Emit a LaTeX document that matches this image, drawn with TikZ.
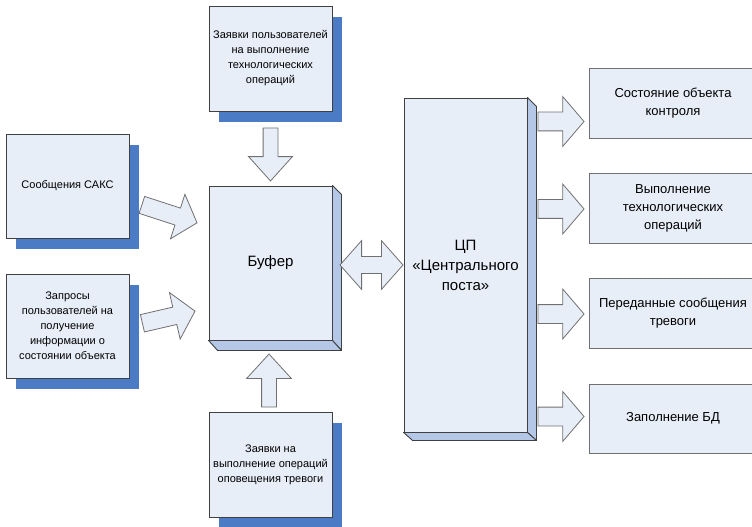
\documentclass[tikz,border=0pt]{standalone}
\usepackage{fontspec}
\setmainfont{Liberation Sans}
\usetikzlibrary{shapes.arrows,shadows,calc}

\definecolor{boxfill}{HTML}{E8EEF8}
\definecolor{shadowblue}{HTML}{4A7BC4}
\definecolor{sidefill}{HTML}{B4C7E7}
\definecolor{edge}{HTML}{404040}
\definecolor{arrowedge}{HTML}{707070}

\tikzset{
  inbox/.style={draw=edge, fill=boxfill, line width=0.9bp, inner sep=2bp,
    align=center, minimum width=123bp, minimum height=105bp,
    font=\fontsize{11bp}{15bp}\selectfont,
    drop shadow={shadow xshift=10bp, shadow yshift=-11bp,
      fill=shadowblue, opacity=1}},
  cube/.style={draw=edge, fill=boxfill, line width=0.9bp, align=center,
    minimum width=123bp, font=\fontsize{15bp}{20bp}\selectfont},
  cubeside/.style={draw=edge, fill=sidefill, line width=0.9bp, line join=round},
  outbox/.style={draw=arrowedge, fill=boxfill, line width=0.9bp, align=center,
    minimum width=168bp, minimum height=70bp,
    font=\fontsize{13bp}{18bp}\selectfont},
  blockarrow/.style={single arrow, draw=arrowedge, fill=boxfill, line width=0.8bp,
    inner xsep=0pt, minimum width=0pt, anchor=tip},
  twoway/.style={double arrow, draw=arrowedge, fill=boxfill, line width=0.8bp,
    inner xsep=0pt, inner ysep=8bp, minimum width=0pt, double arrow head extend=16bp,
    minimum height=63bp, double arrow tip angle=97}
}

\begin{document}
\begin{tikzpicture}[x=1bp, y=-1bp]
  \useasboundingbox (0,0) rectangle (752,527);
  \clip (0,0) rectangle (752,527);
  \fill[white] (0,0) rectangle (752,527);

  % input sources
  \node[inbox] (req)  at (270.5,58.5) {Заявки пользователей\\на выполнение\\технологических\\операций};
  \node[inbox, minimum height=104bp] (saks) at (67.5,186) {Сообщения САКС};
  \node[inbox, minimum height=104bp] (info) at (67.5,326) {Запросы\\пользователей на\\получение\\информации о\\состоянии объекта};
  \node[inbox] (alarm) at (270.5,464.5) {Заявки на\\выполнение операций\\оповещения тревоги};

  % buffer block with depth
  \node[cube, minimum height=154bp] (buf) at (270.5,263) {Буфер};
  \draw[cubeside] (buf.north east) -- ++(9,9) -- ($(buf.south east)+(9,10)$) -- (buf.south east) -- cycle;
  \draw[cubeside] (buf.south west) -- ++(9,10) -- ($(buf.south east)+(9,10)$) -- (buf.south east) -- cycle;

  % central post block with depth
  \node[cube, minimum height=334bp] (cp) at (465.5,265) {ЦП\\«Центрального\\поста»};
  \draw[cubeside] (cp.north east) -- ++(9,9) -- ($(cp.south east)+(9,8)$) -- (cp.south east) -- cycle;
  \draw[cubeside] (cp.south west) -- ++(9,8) -- ($(cp.south east)+(9,8)$) -- (cp.south east) -- cycle;

  % outputs
  \node[outbox] (st)  at (673,103)   {Состояние объекта\\контроля};
  \node[outbox] (ops) at (673,208)   {Выполнение\\технологических\\операций};
  \node[outbox] (msg) at (673,313)   {Переданные сообщения\\тревоги};
  \node[outbox, minimum height=69bp] (db) at (673,418.5) {Заполнение БД};

  % arrows into the buffer
  \node[blockarrow, rotate=-90, inner ysep=7bp, minimum height=53bp,
        single arrow head extend=14.5bp, single arrow tip angle=84] (a-req)
        at ($(buf.north)+(0,-4)$) {};
  \node[blockarrow, rotate=90, inner ysep=7bp, minimum height=53bp,
        single arrow head extend=15bp, single arrow tip angle=85] (a-alarm)
        at ($(buf.south)+(-1.5,13)$) {};
  \node[blockarrow, rotate=-18, inner ysep=8.5bp, minimum height=58bp,
        single arrow head extend=14.5bp, single arrow tip angle=98] (a-saks)
        at ($(buf.west)+(-11,-40)$) {};
  \node[blockarrow, rotate=13, inner ysep=8.5bp, minimum height=54bp,
        single arrow head extend=15bp, single arrow tip angle=98] (a-info)
        at ($(buf.west)+(-13,48)$) {};

  % buffer <-> central post
  \node[twoway, anchor=tip 1] (a-cp) at (cp.west) {};

  % arrows to the outputs
  \tikzset{outarrow/.style={blockarrow, inner ysep=9bp, minimum height=46bp,
        single arrow head extend=15.5bp, single arrow tip angle=99}}
  \node[outarrow] (a-st)  at ($(st.west)+(-4,18.5)$) {};
  \node[outarrow] (a-ops) at ($(ops.west)+(-4,1)$) {};
  \node[outarrow] (a-msg) at ($(msg.west)+(-4,1)$) {};
  \node[outarrow] (a-db)  at ($(db.west)+(-4,-2)$) {};
\end{tikzpicture}
\end{document}
